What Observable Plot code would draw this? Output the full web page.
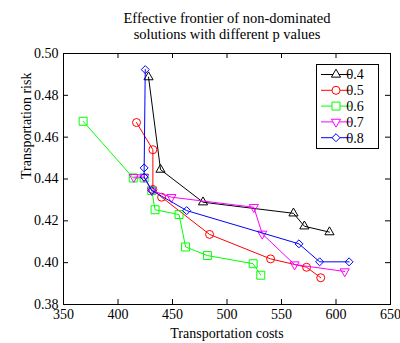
<!DOCTYPE html>
<html><head><meta charset="utf-8">
<script src="https://cdn.jsdelivr.net/npm/d3@7"></script>
<script src="https://cdn.jsdelivr.net/npm/@observablehq/plot@0.6"></script>
<style>body{margin:0;background:#fff} svg{display:block}</style>
</head><body><div id="chart"></div>
<script>
const pValues = ["0.4", "0.5", "0.6", "0.7", "0.8"];
const colors = ["#000000", "#ff0000", "#00ff00", "#ff00ff", "#0000ff"];
const symbols = ["triangle", "circle", "square", "triangle", "diamond2"];
const rotations = [0, 0, 0, 180, 0];
const radii = [3.4, 4, 4.5, 3.4, 3.6];

const costs04 = [428, 439, 478, 561, 571, 594];
const risk04 = [0.4887, 0.4445, 0.4289, 0.4236, 0.4174, 0.4146];
const costs05 = [417, 432, 432, 440, 484, 540, 573, 586];
const risk05 = [0.467, 0.454, 0.435, 0.4313, 0.4135, 0.4018, 0.3978, 0.3928];
const costs06 = [368, 414, 424, 431, 434, 456, 462, 482, 524, 531];
const risk06 = [0.4676, 0.4405, 0.4405, 0.4345, 0.4253, 0.423, 0.4075, 0.4034, 0.3995, 0.394];
const costs07 = [414.5, 424, 431, 449, 524.6, 532.3, 562, 608];
const risk07 = [0.4409, 0.4409, 0.4345, 0.4313, 0.4265, 0.4138, 0.3991, 0.3958];
const costs08 = [425, 424, 424, 431, 463, 566, 585, 612];
const risk08 = [0.4923, 0.4453, 0.4409, 0.4345, 0.4249, 0.409, 0.4004, 0.4004];

const xTicks = [350, 400, 450, 500, 550, 600, 650];
const yTicks = [0.38, 0.40, 0.42, 0.44, 0.46, 0.48, 0.50];

const titleText = "Effective frontier of non-dominated\nsolutions with different p values";
const xLabel = "Transportation costs";
const yLabel = "Transportation risk";

const allCosts = [costs04, costs05, costs06, costs07, costs08];
const allRisks = [risk04, risk05, risk06, risk07, risk08];
const series = pValues.map((p, i) => allCosts[i].map((c, j) => ({p, cost: c, risk: allRisks[i][j]})));

const font = "'Liberation Serif', 'Times New Roman', serif";
const W = 400, H = 343, mL = 63, mR = 10, mT = 53, mB = 39;
const innerH = H - mT - mB, innerW = W - mL - mR;

const marks = [];
series.forEach((rows, i) => {
  marks.push(Plot.line(rows, {x: "cost", y: "risk", stroke: colors[i], strokeWidth: 1}));
  marks.push(Plot.dot(rows, {x: "cost", y: "risk", stroke: colors[i], strokeWidth: 1, fill: "none",
    symbol: symbols[i], r: radii[i], rotate: rotations[i]}));
});

const chart = Plot.plot({
  width: W, height: H,
  marginLeft: mL, marginRight: mR, marginTop: mT, marginBottom: mB,
  style: {fontFamily: font, fontSize: "14px", color: "#000", background: "#fff"},
  x: {domain: [350, 650]},
  y: {domain: [0.38, 0.50]},
  marks: [
    Plot.axisX(xTicks, {tickSize: 0, tickPadding: 5, fontSize: 14, label: null, tickFormat: d => String(d)}),
    Plot.axisY(yTicks, {tickSize: 0, tickPadding: 5, fontSize: 14, label: null, tickFormat: d3.format(".2f")}),
    Plot.tickX(xTicks, {x: d => d, stroke: "#000", insetTop: innerH - 5}),
    Plot.tickX(xTicks, {x: d => d, stroke: "#000", insetBottom: innerH - 5}),
    Plot.tickY(yTicks, {y: d => d, stroke: "#000", insetRight: innerW - 5}),
    Plot.tickY(yTicks, {y: d => d, stroke: "#000", insetLeft: innerW - 5}),
    ...marks,
    Plot.frame({stroke: "#000", strokeWidth: 1}),
    Plot.text([titleText], {frameAnchor: "top", lineAnchor: "middle", dy: -28, fontSize: 14.5, lineHeight: 1.15, fill: "#000"}),
    Plot.text([xLabel], {frameAnchor: "bottom", lineAnchor: "middle", dy: 29, fontSize: 14, fill: "#000"}),
    Plot.text([yLabel], {frameAnchor: "left", lineAnchor: "middle", dx: -37, rotate: -90, fontSize: 14, fill: "#000"})
  ]
});

// legend box (inside plot area, top-right)
const svg = d3.select(chart);
const lg = svg.append("g").attr("font-family", font).attr("font-size", 14);
const bx = 316, by = 64, bw = 62, bh = 84;
lg.append("rect").attr("x", bx + 0.5).attr("y", by + 0.5).attr("width", bw).attr("height", bh)
  .attr("fill", "#fff").attr("stroke", "#000");
const symMap = {triangle: d3.symbolTriangle, circle: d3.symbolCircle, square: d3.symbolSquare, diamond2: d3.symbolDiamond2};
pValues.forEach((p, i) => {
  const yy = by + 10.5 + i * 15.8;
  lg.append("line").attr("x1", bx + 5).attr("x2", bx + 35).attr("y1", yy).attr("y2", yy)
    .attr("stroke", colors[i]).attr("stroke-width", 1);
  lg.append("path").attr("d", d3.symbol(symMap[symbols[i]], Math.PI * radii[i] * radii[i])())
    .attr("transform", `translate(${bx + 20},${yy}) rotate(${rotations[i]})`)
    .attr("fill", "#fff").attr("stroke", colors[i]).attr("stroke-width", 1);
  lg.append("text").attr("x", bx + 39).attr("y", yy).attr("dy", "0.35em").attr("fill", "#000").text(p);
});

document.getElementById("chart").appendChild(chart);
</script>
</body></html>
